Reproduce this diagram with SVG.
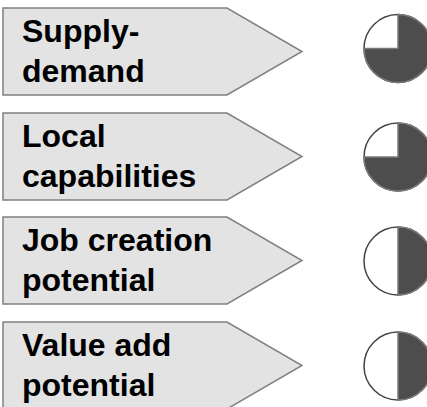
<svg xmlns="http://www.w3.org/2000/svg" width="427" height="407" viewBox="0 0 427 407">
  <style>
    .tag { fill: #e3e3e3; stroke: #808080; stroke-width: 1.5; }
    .label { font-family: "Liberation Sans", Arial, sans-serif; font-weight: bold; font-size: 32px; fill: #000; }
    .ring { fill: #fff; stroke: #444; stroke-width: 1.5; }
    .fill { fill: #4d4d4d; stroke: #7a7a7a; stroke-width: 1.5; stroke-linejoin: round; }
  </style>
  <defs>
    <polygon id="tagShape" class="tag" points="3,0 227,0 302,43.5 227,87 3,87"/>
  </defs>
  <rect width="427" height="407" fill="#fff"/>

  <!-- criteria labels -->
  <g id="supply-demand">
    <use href="#tagShape" y="8"/>
    <text class="label" x="22" y="42">Supply-</text>
    <text class="label" x="22" y="82">demand</text>
  </g>
  <g id="local-capabilities">
    <use href="#tagShape" y="113"/>
    <text class="label" x="22" y="147">Local</text>
    <text class="label" x="22" y="187">capabilities</text>
  </g>
  <g id="job-creation">
    <use href="#tagShape" y="217"/>
    <text class="label" x="22" y="251">Job creation</text>
    <text class="label" x="22" y="291">potential</text>
  </g>
  <g id="value-add">
    <use href="#tagShape" y="322"/>
    <text class="label" x="22" y="356">Value add</text>
    <text class="label" x="22" y="396">potential</text>
  </g>

  <!-- Harvey balls: three-quarter and half -->
  <g id="ball-supply-demand">
    <circle class="ring" cx="398" cy="48.5" r="34"/>
    <path class="fill" d="M398,48.5 L398,14.5 A34,34 0 1 1 364,48.5 Z"/>
  </g>
  <g id="ball-local-capabilities">
    <circle class="ring" cx="398" cy="157" r="34"/>
    <path class="fill" d="M398,157 L398,123 A34,34 0 1 1 364,157 Z"/>
  </g>
  <g id="ball-job-creation">
    <circle class="ring" cx="398" cy="261" r="34"/>
    <path class="fill" d="M398,227 A34,34 0 0 1 398,295 Z"/>
  </g>
  <g id="ball-value-add">
    <circle class="ring" cx="398" cy="366" r="34"/>
    <path class="fill" d="M398,332 A34,34 0 0 1 398,400 Z"/>
  </g>

  <g id="connectors"/>
</svg>
